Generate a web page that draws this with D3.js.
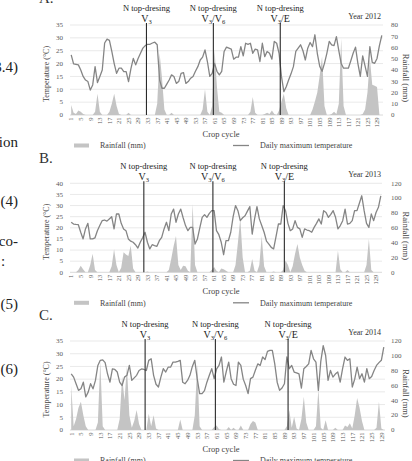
<!DOCTYPE html>
<html>
<head>
<meta charset="utf-8">
<script src="https://cdn.jsdelivr.net/npm/d3@7"></script>
<style>
  body { margin: 0; background: #fff; }
  svg { display: block; font-family: "Liberation Serif", "Times New Roman", serif; }
</style>
</head>
<body>
<script>
// Daily maximum temperature (°C) and rainfall (mm) per day of the crop cycle

const tempA = [23.4,19.9,19.7,19.5,17.5,15,13.6,13,9.7,11.7,18.8,12.6,15,17.5,28,29.5,29,24.7,20,16.2,
  18.2,18.2,16.9,16.9,13,18,22,19.5,22,24,26,27,27.5,27.5,28,28.3,27.3,13.6,10.4,10.4,
  12,13.6,15.6,15,12.3,13,16.2,16.5,12.3,13,14.3,15,17,18.8,21.4,22.5,25.3,20.8,15,16.2,
  20.1,17,15.6,17,24.7,26.4,26,25.6,21.7,22.5,22.5,26.6,23,27.9,27.5,27.9,24,25.6,25.3,20.8,
  27.9,22.7,24.7,24,21.7,28.6,27.9,24,15,9.1,11,13.6,16,18.8,24.7,26,27.3,25,21.4,26,
  28.2,26.6,31.2,24,19,17,20.1,24,28.6,27.3,27,30.5,25,20,18.2,18.2,18.2,21,24,26.4,
  20,15,23,19,15,26.6,20.5,20.1,22,27,31]
const rainA = [9,2,1,4,3,1,0,0,0,0,3,19,3,0,0,0,3,10,19,8,
  1,0,0,0,2,0,0,0,0,0,0,0,0,0,0,0,10,55,33,5,
  0,0,2,0,0,0,0,0,0,0,0,0,0,0,0,5,23,3,0,8,
  58,25,3,2,0,0,0,0,0,0,0,0,0,0,0,3,16,2,0,0,
  0,1,2,1,4,1,0,4,12,19,6,0,0,0,0,0,0,0,0,0,
  0,5,12,20,35,52,8,0,0,1,3,1,10,68,8,0,0,0,0,0,
  0,0,1,5,20,50,27,26,25,0,0]

const tempB = [22.5,21.7,21.5,21.4,18,15,19.5,22,15,15,15.5,18.7,21,23.2,23.5,23,24,25,19.5,26.2,
  26.2,22,19.5,18.7,15,14,13.5,12.4,10.9,13.5,15.5,18,13.5,10.5,12.4,12,11.7,14.2,15.7,19.5,
  22.5,18.7,26.2,28.4,22.5,26.2,28.4,24.5,21,18.7,20.2,20.2,12.7,15,20,24.7,25.9,24.7,26.5,27.7,
  27.7,18.7,16.9,13.5,7.9,14.2,14.2,18,25,30,27.7,23.2,24.5,25.4,27.5,29.5,17.2,24,29.5,24,
  21,18,14,12.7,11.2,10.5,16,21.7,21.7,30,27.7,22,18.7,19.5,23.2,20.2,19.5,15.7,19.5,19,
  18.7,18,20.2,22,24,21.7,27.7,26.9,24.7,26,27.7,24.7,19.5,21,23.2,28.4,21.7,22,23.2,27.7,
  27.7,31,34.4,27.7,22,20.2,26.2,23.2,26.9,29.2,34.4]
const rainB = [0,0,0,3,9,4,0,0,10,25,3,0,0,0,0,0,0,8,31,10,
  0,6,27,24,22,36,5,0,0,0,0,0,1,0,0,0,0,0,0,0,
  0,3,18,35,49,10,3,9,8,2,0,92,10,0,0,0,0,0,0,3,
  7,2,0,5,4,2,0,0,0,10,40,73,20,0,0,2,18,2,0,10,
  49,8,0,0,0,1,0,0,0,3,16,10,0,8,25,38,20,10,2,0,
  0,0,0,0,0,0,0,0,0,0,0,0,29,4,0,0,3,0,0,0,
  0,0,0,0,10,45,3,0,0,0,0]

const tempC = [22.1,20.8,18.2,15.6,16.2,18.8,13,14.9,18.2,16.2,19.5,25.4,27.4,27.6,26.5,22,18.8,24,23.8,22.8,
  18.8,17.5,20.8,21.5,25.4,19.5,20.5,21.5,23.4,24,23.8,23.4,27.4,28,21.5,18,16.9,20.8,24.1,22.8,
  24.7,24.7,26.7,26.7,27,27.4,18.8,18.2,19.5,21.5,25,27.4,20.2,14.3,14.3,15.5,18.8,21.5,24.1,20.2,
  24,25.4,28.7,18.8,23,26.7,20.2,18,17.5,26.7,25.4,20,17.5,14.3,20.2,20.8,23.5,26,25.4,28.7,
  27.7,30.9,31.3,31.3,26,18.8,15.6,16.5,18.2,28.7,24.1,25.4,22.8,22.5,22.1,16.5,24.1,25,26,31.3,
  28,26.7,15.6,27,33.2,29.3,19.5,23.4,20.8,22,22.8,18.8,24.1,28.7,27.4,28,16.9,20,24.7,20.2,
  22.1,18.8,24.1,20.2,21,23.4,25.4,26.5,27.4,32.6]
const rainC = [60,5,15,30,38,20,5,0,0,0,0,10,93,5,0,0,0,0,0,0,
  15,72,40,86,20,3,12,27,8,0,0,0,22,5,20,2,0,0,0,0,
  0,0,0,0,0,14,0,0,0,0,0,20,88,5,0,0,0,0,0,4,
  6,1,0,0,0,4,0,3,0,0,6,0,0,0,8,12,10,0,0,0,
  0,0,0,0,0,0,0,0,0,5,27,3,18,2,0,15,45,10,0,0,
  0,5,55,3,0,13,0,0,0,3,0,0,0,6,4,9,2,20,43,30,
  12,0,0,0,0,0,3,38,2,0]

// N top-dressing days and their stage labels
const dressA = [33, 61, 89]
const dressB = [32, 61, 91]
const dressC = [32, 61, 91]
const stages = [["V", "3"], ["V", "3", "/V", "6"], ["V", "3", "/E"]]

const years = ["Year 2012", "Year 2013", "Year 2014"]
const tempTicksA = [0,5,10,15,20,25,30,35]
const tempTicksB = [0,5,10,15,20,25,30,35,40]
const rainTicksA = [0,10,20,30,40,50,60,70,80]
const rainTicksB = [0,20,40,60,80,100,120]

const W = 412, H = 461
const svg = d3.select("body").append("svg").attr("width", W).attr("height", H)

// left margin: bits of the paper's body text
const sideText = [["3.4)", 72], ["ion", 147], ["(4)", 206], ["co-", 246], ["(5)", 309], ["(6)", 374]]
svg.selectAll(".side").data(sideText).join("text")
  .attr("class", "side").attr("x", 18).attr("y", d => d[1])
  .attr("text-anchor", "end").attr("font-size", 15).attr("fill", "#222")
  .text(d => d[0])
svg.append("text").attr("x", 1).attr("y", 266).attr("font-size", 15).attr("fill", "#222").text(":")

const panels = [
  {label: "A.", labelY: 3, temp: tempA, rain: rainA, dress: dressA, year: years[0],
   tTicks: tempTicksA, rTicks: rainTicksA, top: 25, bottom: 115, x0: 70, x1: 383},
  {label: "B.", labelY: 163, temp: tempB, rain: rainB, dress: dressB, year: years[1],
   tTicks: tempTicksB, rTicks: rainTicksB, top: 183.3, bottom: 272.3, x0: 70, x1: 382},
  {label: "C.", labelY: 320, temp: tempC, rain: rainC, dress: dressC, year: years[2],
   tTicks: tempTicksA, rTicks: rainTicksB, top: 341, bottom: 430, x0: 70, x1: 385}
]

const draw = (p) => {
  const g = svg.append("g")
  const days = p.temp.map((d, i) => i + 1)

  const x = d3.scaleBand().domain(days).range([p.x0, p.x1])
  const cx = d => x(d) + x.bandwidth() / 2
  const y = d3.scaleLinear().domain([0, d3.max(p.tTicks)]).range([p.bottom, p.top])
  const yR = d3.scaleLinear().domain([0, d3.max(p.rTicks)]).range([p.bottom, p.top])

  // gridlines
  g.selectAll(".grid").data(p.tTicks).join("line")
    .attr("x1", p.x0).attr("x2", p.x1)
    .attr("y1", d => y(d)).attr("y2", d => y(d))
    .attr("stroke", d => d === 0 ? "#d0d0d0" : "#e3e3e3").attr("stroke-width", 0.8)

  // left axis labels
  g.selectAll(".tl").data(p.tTicks).join("text")
    .attr("x", 63).attr("y", d => y(d) + 2.3)
    .attr("text-anchor", "end").attr("font-size", 7).attr("fill", "#595959")
    .text(d => d)
  // right axis labels
  g.selectAll(".tr").data(p.rTicks).join("text")
    .attr("x", 391).attr("y", d => yR(d) + 2.3)
    .attr("font-size", 7).attr("fill", "#595959")
    .text(d => d)

  // x tick labels (every 4th day)
  g.selectAll(".xl").data(days.filter(d => (d - 1) % 4 === 0)).join("text")
    .attr("transform", d => `translate(${cx(d) + 2.3},${p.bottom + 2.5}) rotate(-90)`)
    .attr("text-anchor", "end").attr("font-size", 6.5).attr("fill", "#595959")
    .text(d => d)

  // rainfall area
  const area = d3.area().x((d, i) => cx(days[i])).y0(p.bottom).y1(d => yR(d))
  g.append("path").datum(p.rain)
    .attr("d", area).attr("fill", "#c4c4c4")

  // temperature line
  const line = d3.line().x((d, i) => cx(days[i])).y(d => y(d))
  g.append("path").datum(p.temp)
    .attr("d", line).attr("fill", "none")
    .attr("stroke", "#858585").attr("stroke-width", 1.3).attr("stroke-linejoin", "round")

  // N top-dressing markers
  p.dress.forEach((d, i) => {
    const lx = x(d)
    g.append("line").attr("x1", lx).attr("x2", lx)
      .attr("y1", p.top - 2).attr("y2", p.bottom)
      .attr("stroke", "#2a2a2a").attr("stroke-width", 1.1)
    g.append("text").attr("x", lx).attr("y", p.top - 14.5)
      .attr("text-anchor", "middle").attr("font-size", 8.5).attr("fill", "#222")
      .text("N top-dresing")
    const t = g.append("text").attr("x", lx).attr("y", p.top - 3.5)
      .attr("text-anchor", "middle").attr("font-size", 10).attr("fill", "#222")
    stages[i].forEach((s, k) => {
      const sub = k % 2 === 1
      t.append("tspan").attr("font-size", sub ? 6.5 : 10)
        .attr("dy", sub ? 2 : (k > 0 ? -2 : 0)).text(s)
    })
  })

  g.append("text").attr("x", 381).attr("y", p.top - 6)
    .attr("text-anchor", "end").attr("font-size", 8).attr("fill", "#333").text(p.year)

  // axis titles
  g.append("text").attr("transform", `translate(49,${(p.top + p.bottom) / 2 + 4}) rotate(-90)`)
    .attr("text-anchor", "middle").attr("font-size", 8).attr("fill", "#444").text("Temperature (°C)")
  g.append("text").attr("transform", `translate(403,${(p.top + p.bottom) / 2 + 8}) rotate(90)`)
    .attr("text-anchor", "middle").attr("font-size", 8.5).attr("fill", "#444").text("Rainfall (mm)")
  g.append("text").attr("x", 221).attr("y", p.bottom + 21.5)
    .attr("text-anchor", "middle").attr("font-size", 8.5).attr("fill", "#444").text("Crop cycle")

  // legend
  const ly = p.bottom + 30.5
  g.append("rect").attr("x", 74).attr("y", ly - 2).attr("width", 15).attr("height", 4).attr("fill", "#c4c4c4")
  g.append("text").attr("x", 100).attr("y", ly + 2.8).attr("font-size", 8).attr("fill", "#444").text("Rainfall (mm)")
  g.append("line").attr("x1", 233).attr("x2", 249).attr("y1", ly).attr("y2", ly)
    .attr("stroke", "#858585").attr("stroke-width", 1.3)
  g.append("text").attr("x", 260).attr("y", ly + 2.8).attr("font-size", 8).attr("fill", "#444").text("Daily maximum temperature")

  // panel letter
  svg.append("text").attr("x", 39).attr("y", p.labelY)
    .attr("font-size", 15).attr("fill", "#333").text(p.label)
}

panels.forEach(draw)
</script>
</body>
</html>
